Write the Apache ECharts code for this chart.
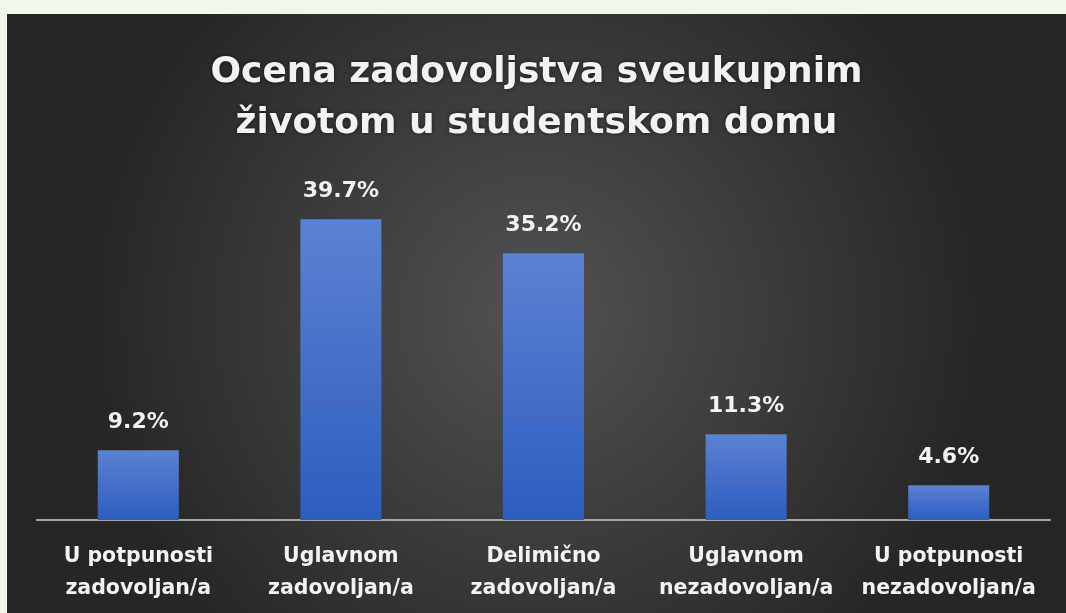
<!doctype html>
<html lang="sr">
<head>
<meta charset="UTF-8">
<title>Ocena zadovoljstva</title>
<style>
	html, body { margin: 0; padding: 0; background: #f1f7ea; }
	#main { position: absolute; left: 7px; top: 14px; width: 1059px; height: 599px; }
</style>
</head>
<body>
<div id="main"></div>
<script src="https://cdn.jsdelivr.net/npm/echarts@6/dist/echarts.min.js"></script>
<script>
	// podaci sa slike
	var categories = ['U potpunosti\nzadovoljan/a', 'Uglavnom\nzadovoljan/a', 'Delimično\nzadovoljan/a', 'Uglavnom\nnezadovoljan/a', 'U potpunosti\nnezadovoljan/a'];
	var values = [9.2, 39.7, 35.2, 11.3, 4.6];

	var myChart = echarts.init(document.getElementById('main'));

	var option = {
		backgroundColor: {
			type: 'radial', x: 0.5, y: 0.5, r: 0.75,
			colorStops: [
				{ offset: 0, color: '#525252' },
				{ offset: 1, color: '#262626' }
			]
		},
		title: {
			text: 'Ocena zadovoljstva sveukupnim\nživotom u studentskom domu',
			left: 'center',
			top: 28,
			textStyle: {
				color: '#f2f2f2',
				fontFamily: 'DejaVu Sans',
				fontWeight: 'bold',
				fontSize: 36,
				lineHeight: 51,
				textShadowColor: 'rgba(0,0,0,0.6)',
				textShadowBlur: 4
			}
		},
		grid: { left: 30, right: 16, top: 165, bottom: 93 },
		xAxis: {
			type: 'category',
			data: categories,
			axisLine: { lineStyle: { color: '#a6a6a6', width: 2 } },
			axisTick: { show: false },
			axisLabel: {
				color: '#f2f2f2',
				fontFamily: 'DejaVu Sans',
				fontWeight: 'bold',
				fontSize: 20.5,
				lineHeight: 32,
				margin: 21,
				interval: 0
			}
		},
		yAxis: {
			type: 'value',
			min: 0,
			max: 45,
			show: false
		},
		series: [{
			type: 'bar',
			data: values,
			barWidth: '40%',
			itemStyle: {
				color: {
					type: 'linear', x: 0, y: 0, x2: 0, y2: 1,
					colorStops: [
						{ offset: 0, color: '#5b82d2' },
						{ offset: 1, color: '#2d5dbf' }
					]
				}
			},
			label: {
				show: true,
				position: 'top',
				distance: 17,
				formatter: function (p) { return p.value.toFixed(1) + '%'; },
				color: '#f2f2f2',
				fontFamily: 'DejaVu Sans',
				fontWeight: 'bold',
				fontSize: 22
			}
		}]
	};

	myChart.setOption(option);
</script>
</body>
</html>
